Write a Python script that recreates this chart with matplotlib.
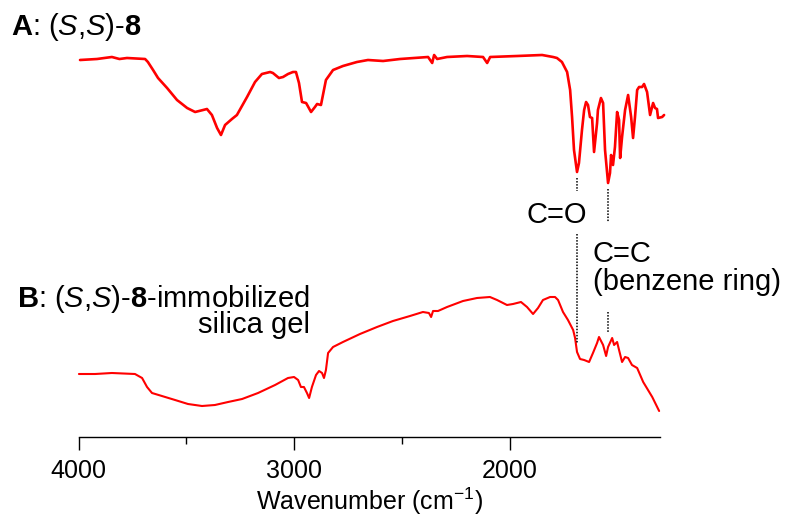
import numpy as np
import matplotlib.pyplot as plt

plt.rcParams['font.family'] = ['Liberation Sans', 'DejaVu Sans']
plt.rcParams['mathtext.fontset'] = 'custom'
plt.rcParams['mathtext.rm'] = 'Liberation Sans'
plt.rcParams['mathtext.it'] = 'Liberation Sans:italic'
plt.rcParams['mathtext.bf'] = 'Liberation Sans:bold'

# IR spectrum of (S,S)-8 (wavenumber in cm-1, intensity in arbitrary units)
wn_a = [3993, 3914, 3880, 3845, 3810, 3775, 3691, 3678, 3654, 3631, 3589, 3543,
        3496, 3459, 3422, 3404, 3381, 3357, 3339, 3320, 3288, 3265, 3218, 3181,
        3149, 3111, 3098, 3070, 3051, 3028, 3005, 2991, 2977, 2963, 2944, 2921,
        2903, 2893, 2875, 2852, 2819, 2773, 2708, 2657, 2587, 2508, 2378, 2359,
        2350, 2336, 2290, 2197, 2123, 2104, 2090, 1965, 1849, 1798, 1780, 1757,
        1733, 1719, 1710, 1701, 1687, 1678, 1664, 1654, 1645, 1636, 1627, 1617,
        1608, 1594, 1590, 1576, 1566, 1557, 1543, 1534, 1529, 1520, 1511, 1501,
        1492, 1487, 1478, 1464, 1450, 1436, 1427, 1418, 1408, 1399, 1385, 1376,
        1362, 1348, 1334, 1325, 1316, 1311, 1292, 1283]
int_a = [377, 378, 379, 380, 378, 379, 378, 375, 367, 359, 349, 337,
         329, 325, 327, 328, 322, 309, 302, 312, 318, 322, 340, 355,
         363, 365, 364, 359, 360, 363, 365, 365, 354, 335, 334, 325,
         330, 333, 332, 357, 367, 371, 375, 377, 376, 378, 380, 374,
         382, 378, 380, 381, 380, 374, 380, 381, 382, 380, 379, 375,
         365, 347, 320, 287, 265, 274, 307, 327, 335, 332, 320, 319,
         285, 314, 327, 339, 334, 287, 254, 264, 282, 272, 290, 325,
         317, 279, 300, 327, 342, 320, 299, 320, 347, 350, 350, 353,
         345, 322, 334, 329, 328, 319, 320, 322]

# IR spectrum of (S,S)-8-immobilized silica gel
wn_b = [3998, 3923, 3845, 3738, 3705, 3682, 3659, 3613, 3552, 3492, 3427, 3367,
        3306, 3241, 3167, 3088, 3028, 3000, 2981, 2968, 2954, 2940, 2930, 2917,
        2898, 2884, 2870, 2861, 2852, 2842, 2819, 2773, 2694, 2615, 2541, 2462,
        2402, 2374, 2364, 2355, 2332, 2290, 2216, 2151, 2091, 2058, 2012, 1984,
        1947, 1919, 1891, 1868, 1845, 1812, 1789, 1775, 1752, 1729, 1705, 1696,
        1687, 1673, 1654, 1631, 1613, 1594, 1585, 1566, 1552, 1543, 1524, 1515,
        1501, 1492, 1478, 1464, 1450, 1432, 1408, 1380, 1338, 1306]
int_b = [63, 63, 64, 63, 59, 50, 44, 41, 37, 33, 31, 32,
         35, 38, 44, 52, 59, 60, 57, 50, 50, 44, 39, 50,
         62, 66, 64, 59, 67, 84, 90, 95, 103, 110, 116, 121,
         125, 124, 120, 126, 126, 130, 136, 139, 140, 137, 132, 133,
         135, 130, 123, 129, 137, 140, 140, 137, 125, 117, 107, 99,
         85, 78, 77, 75, 84, 94, 100, 92, 81, 90, 99, 92,
         95, 87, 75, 80, 79, 72, 69, 55, 40, 26]

# marked bands: (wavenumber, upper dotted segment, lower dotted segment)
band_wn = [1687, 1545]
band_upper = [(259, 246), (248, 215)]
band_lower = [(203, 94), (125, 104)]

W, H = 787, 518
fig = plt.figure(figsize=(W / 100, H / 100), dpi=100)
ax = fig.add_axes([78.5 / W, (H - 437) / H, (660 - 78.5) / W, (437 - 20) / H])

ax.plot(wn_a, int_a, color='#ff0000', lw=1.9, clip_on=False,
        solid_joinstyle='round', solid_capstyle='round')
ax.plot(wn_b, int_b, color='#ff0000', lw=1.5, clip_on=False,
        solid_joinstyle='round', solid_capstyle='round')

for w, up, lo in zip(band_wn, band_upper, band_lower):
    ax.plot([w, w], up, color='black', lw=1.1, ls=(0, (1, 1)), clip_on=False)
    ax.plot([w, w], lo, color='black', lw=1.1, ls=(0, (1, 1)), clip_on=False)

ax.set_xlim(4000, 1302)
ax.set_ylim(0, 417)
ax.set_yticks([])
for s in ['left', 'right', 'top']:
    ax.spines[s].set_visible(False)
ax.spines['bottom'].set_linewidth(1.0)

ax.set_xticks([4000, 3000, 2000])
ax.set_xticks([3500, 2500], minor=True)
ax.tick_params(axis='x', which='major', length=9, width=1.0, labelsize=18, pad=7)
ax.tick_params(axis='x', which='minor', length=5, width=1.0)
ax.set_xlabel(r'Wavenumber (cm$^{\mathrm{-1}}$)', fontsize=18, labelpad=2)

def fig_text(x, y, s, **kw):
    fig.text(x / W, 1 - y / H, s, fontsize=21, va='baseline', **kw)

fig_text(11, 35, r'$\mathbf{A}$: ($\mathit{S}$,$\mathit{S}$)-$\mathbf{8}$')
fig_text(310, 333,
         '$\\mathbf{B}$: ($\\mathit{S}$,$\\mathit{S}$)-$\\mathbf{8}$-immobilized\nsilica gel',
         ha='right', multialignment='right', linespacing=0.82)
fig_text(557, 223, 'C=O', ha='center')
fig_text(593, 290, 'C=C\n(benzene ring)', linespacing=0.98)

fig.savefig('out.png', dpi=100)
